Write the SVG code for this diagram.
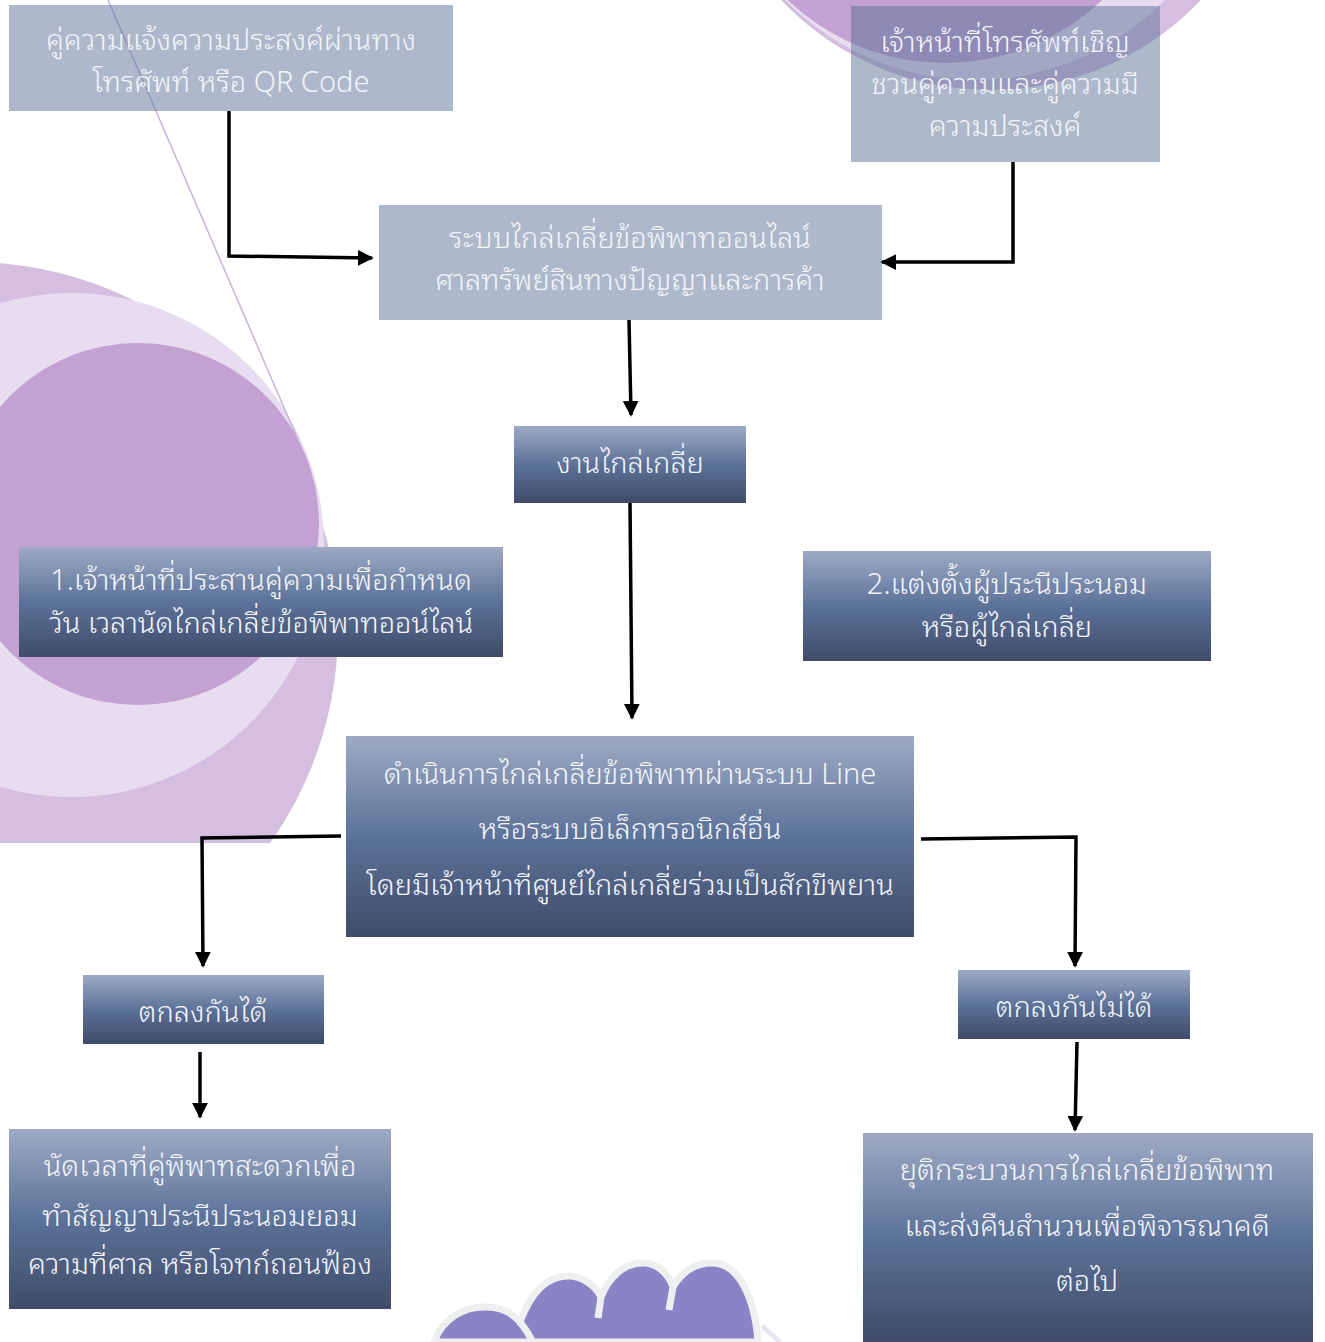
<svg xmlns="http://www.w3.org/2000/svg" width="1325" height="1342" viewBox="0 0 1325 1342">
<defs>
<linearGradient id="g" x1="0" y1="0" x2="0" y2="1">
<stop offset="0" stop-color="#9EAAC4"/>
<stop offset="0.5" stop-color="#5C7299"/>
<stop offset="1" stop-color="#3F4B69"/>
</linearGradient>
<marker id="ah" markerWidth="4.5" markerHeight="4.5" refX="4" refY="2.25" orient="auto" markerUnits="strokeWidth">
<path d="M0,0 L4.5,2.25 L0,4.5 Z" fill="#000"/>
</marker>
</defs>
<style>
.lite{fill:#5B7197;fill-opacity:0.5}
.grad{fill:url(#g)}
.t{font-family:"Noto Sans Thai Looped","Noto Serif Thai","Loma","Garuda","Norasi","Noto Sans Thai","Noto Sans","DejaVu Sans",sans-serif;font-weight:300;fill:#F2F4F8;text-anchor:middle;font-size:29px}
.c{fill:none;stroke:#000;stroke-width:3.5;marker-end:url(#ah)}
</style>
<rect width="1325" height="1342" fill="#FFFFFF"/>
<g id="background">
<circle cx="-30" cy="630" r="368" fill="#D5BEE0"/>
<rect x="-40" y="843" width="420" height="520" fill="#FFFFFF"/>
<circle cx="72" cy="545" r="252" fill="#E8DDF0"/>
<circle cx="138" cy="524" r="181" fill="#C3A1D2"/>
<line x1="108" y1="0" x2="298" y2="440" stroke="#C9B2DC" stroke-width="1.5"/>
<circle cx="991" cy="-200" r="290" fill="#D5BEE0"/>
<circle cx="975" cy="-185" r="265" fill="#E8DDF0"/>
<circle cx="945" cy="-165" r="228" fill="#C3A1D2"/>
<path d="M434 1342 C442 1320 462 1306 487 1307 C500 1307 512 1313 520 1322 C530 1295 545 1276 568 1276 C582 1276 595 1285 601 1297 C610 1275 625 1263 643 1263 C657 1263 668 1273 673 1287 C683 1270 697 1263 712 1263 C740 1263 755 1300 758 1342 Z" fill="#8884C6" stroke="#EFEFEF" stroke-width="7"/>
<path d="M520 1322 Q528 1332 533 1342 M601 1297 L598 1318 M673 1287 L669 1310" fill="none" stroke="#EFEFEF" stroke-width="7"/>
<path d="M762 1326 L780 1342" fill="none" stroke="#E6E6EE" stroke-width="5"/>
</g>
<g id="n1">
<rect class="lite" x="9" y="5" width="444" height="106"/>
<text class="t" x="231" y="50">คู่ความแจ้งความประสงค์ผ่านทาง</text>
<text class="t" x="231" y="92">โทรศัพท์ หรือ QR Code</text>
</g>
<g id="n2">
<rect class="lite" x="851" y="6" width="309" height="156"/>
<text class="t" x="1005" y="52">เจ้าหน้าที่โทรศัพท์เชิญ</text>
<text class="t" x="1005" y="94">ชวนคู่ความและคู่ความมี</text>
<text class="t" x="1005" y="136">ความประสงค์</text>
</g>
<g id="n3">
<rect class="lite" x="379" y="205" width="503" height="115"/>
<text class="t" x="630" y="248">ระบบไกล่เกลี่ยข้อพิพาทออนไลน์</text>
<text class="t" x="630" y="290">ศาลทรัพย์สินทางปัญญาและการค้า</text>
</g>
<g id="n4">
<rect class="grad" x="514" y="426" width="232" height="77"/>
<text class="t" x="630" y="473">งานไกล่เกลี่ย</text>
</g>
<g id="n5">
<rect class="grad" x="19" y="547" width="484" height="110"/>
<text class="t" x="261" y="590">1.เจ้าหน้าที่ประสานคู่ความเพื่อกำหนด</text>
<text class="t" x="261" y="633">วัน เวลานัดไกล่เกลี่ยข้อพิพาทออน์ไลน์</text>
</g>
<g id="n6">
<rect class="grad" x="803" y="551" width="408" height="110"/>
<text class="t" x="1007" y="594">2.แต่งตั้งผู้ประนีประนอม</text>
<text class="t" x="1007" y="637">หรือผู้ไกล่เกลี่ย</text>
</g>
<g id="n7">
<rect class="grad" x="346" y="736" width="568" height="201"/>
<text class="t" x="630" y="784">ดำเนินการไกล่เกลี่ยข้อพิพาทผ่านระบบ Line</text>
<text class="t" x="630" y="839">หรือระบบอิเล็กทรอนิกส์อื่น</text>
<text class="t" x="630" y="895">โดยมีเจ้าหน้าที่ศูนย์ไกล่เกลี่ยร่วมเป็นสักขีพยาน</text>
</g>
<g id="n8">
<rect class="grad" x="83" y="975" width="241" height="69"/>
<text class="t" x="203" y="1022">ตกลงกันได้</text>
</g>
<g id="n9">
<rect class="grad" x="958" y="970" width="232" height="69"/>
<text class="t" x="1074" y="1017">ตกลงกันไม่ได้</text>
</g>
<g id="n10">
<rect class="grad" x="9" y="1129" width="382" height="180"/>
<text class="t" x="200" y="1176">นัดเวลาที่คู่พิพาทสะดวกเพื่อ</text>
<text class="t" x="200" y="1226">ทำสัญญาประนีประนอมยอม</text>
<text class="t" x="200" y="1274">ความที่ศาล หรือโจทก์ถอนฟ้อง</text>
</g>
<g id="n11">
<rect class="grad" x="863" y="1133" width="450" height="209"/>
<text class="t" x="1087" y="1180">ยุติกระบวนการไกล่เกลี่ยข้อพิพาท</text>
<text class="t" x="1087" y="1236">และส่งคืนสำนวนเพื่อพิจารณาคดี</text>
<text class="t" x="1087" y="1291">ต่อไป</text>
</g>
<g id="connectors">
<path class="c" d="M229 111 L229 256 L372 258"/>
<path class="c" d="M1013 162 L1013 262 L882 262"/>
<path class="c" d="M629 320 L631 415"/>
<path class="c" d="M630 503 L632 718"/>
<path class="c" d="M341 836 L202 838 L203 966"/>
<path class="c" d="M921 839 L1076 837 L1075 966"/>
<path class="c" d="M200 1052 L200 1117"/>
<path class="c" d="M1077 1042 L1075 1130"/>
</g>
</svg>
